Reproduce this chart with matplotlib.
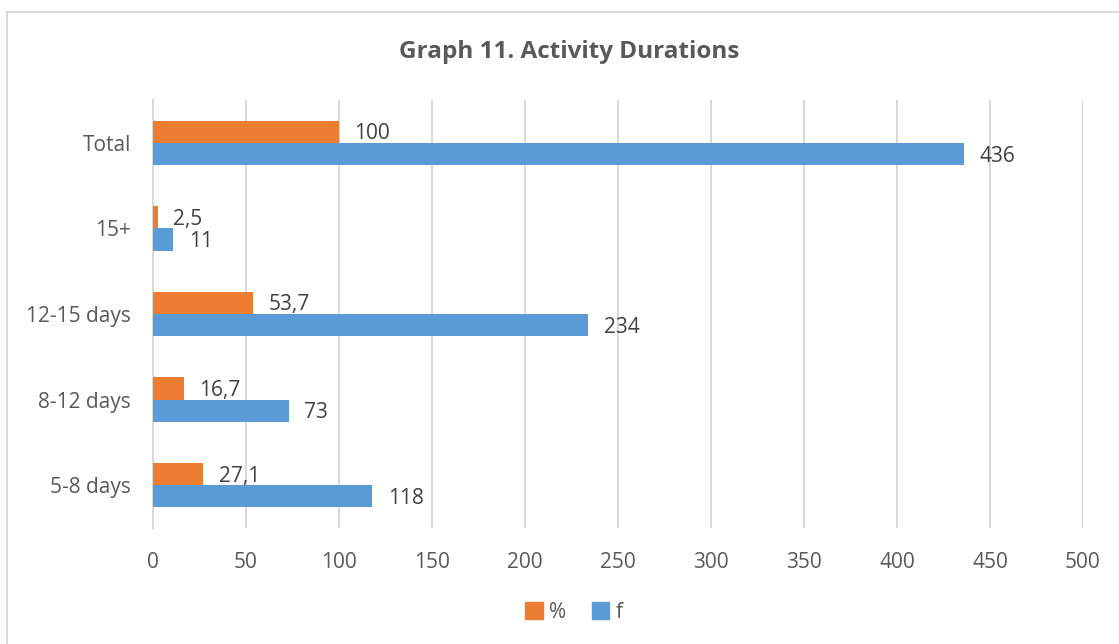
import matplotlib
matplotlib.use("Agg")
import matplotlib.pyplot as plt
from matplotlib.lines import Line2D
from matplotlib.patches import Patch

plt.rcParams['font.family'] = ['Open Sans', 'DejaVu Sans']

categories = ["5-8 days", "8-12 days", "12-15 days", "15+", "Total"]
pct_values = [27.1, 16.7, 53.7, 2.5, 100]
f_values = [118, 73, 234, 11, 436]
pct_labels = ["27,1", "16,7", "53,7", "2,5", "100"]
f_labels = ["118", "73", "234", "11", "436"]
x_ticks = [0, 50, 100, 150, 200, 250, 300, 350, 400, 450, 500]

ORANGE = "#ED7D31"
BLUE = "#5B9BD5"
TEXT = "#595959"
GRID = "#D9D9D9"

W, H = 1119, 644
fig = plt.figure(figsize=(W / 100, H / 100), dpi=100)
fig.patch.set_facecolor("white")

# chart frame (top and left edges)
fig.add_artist(Line2D([7 / W, 1.0], [1 - 12 / H, 1 - 12 / H], color=GRID, lw=1.5,
                      transform=fig.transFigure))
fig.add_artist(Line2D([7 / W, 7 / W], [0.0, 1 - 12 / H], color=GRID, lw=1.5,
                      transform=fig.transFigure))

left, right, top, bottom = 153, 1083, 100, 528
ax = fig.add_axes([left / W, 1 - bottom / H, (right - left) / W, (bottom - top) / H])

bh = 0.26
y = list(range(len(categories)))
bars_f = ax.barh([v - bh / 2 for v in y], f_values, height=bh, color=BLUE, zorder=3)
bars_p = ax.barh([v + bh / 2 for v in y], pct_values, height=bh, color=ORANGE, zorder=3)

for bar, lab in zip(bars_f, f_labels):
    ax.annotate(lab, (bar.get_width(), bar.get_y() + bar.get_height() / 2),
                xytext=(11, -1.5), textcoords="offset points", va="center", ha="left",
                fontsize=15, color="#404040")
for bar, lab in zip(bars_p, pct_labels):
    ax.annotate(lab, (bar.get_width(), bar.get_y() + bar.get_height() / 2),
                xytext=(11, -1.5), textcoords="offset points", va="center", ha="left",
                fontsize=15, color="#404040")

ax.set_xlim(0, 500)
ax.set_ylim(-0.5, len(categories) - 0.5)
ax.set_xticks(x_ticks)
ax.set_yticks(y)
ax.set_yticklabels(categories)
ax.grid(axis="x", color=GRID, lw=1.5, zorder=0)
ax.set_axisbelow(True)
for s in ["top", "right", "bottom"]:
    ax.spines[s].set_visible(False)
ax.spines["left"].set_color(GRID)
ax.spines["left"].set_linewidth(1.5)
ax.tick_params(axis="both", length=0, labelsize=15, colors=TEXT)
ax.tick_params(axis="x", pad=17)
ax.tick_params(axis="y", pad=16)

fig.text(569 / W, 1 - 52 / H, "Graph 11. Activity Durations", ha="center", va="center",
         fontsize=17.5, fontweight="bold", color=TEXT)

handles = [Patch(color=ORANGE, label="%"), Patch(color=BLUE, label="f")]
fig.legend(handles=handles, loc="center", bbox_to_anchor=(574 / W, 1 - 612 / H), ncol=2,
           frameon=False, fontsize=15, handlelength=0.85, handleheight=0.85,
           handletextpad=0.3, columnspacing=1.2, labelcolor=TEXT)

fig.savefig("out.png", dpi=100, facecolor="white")
